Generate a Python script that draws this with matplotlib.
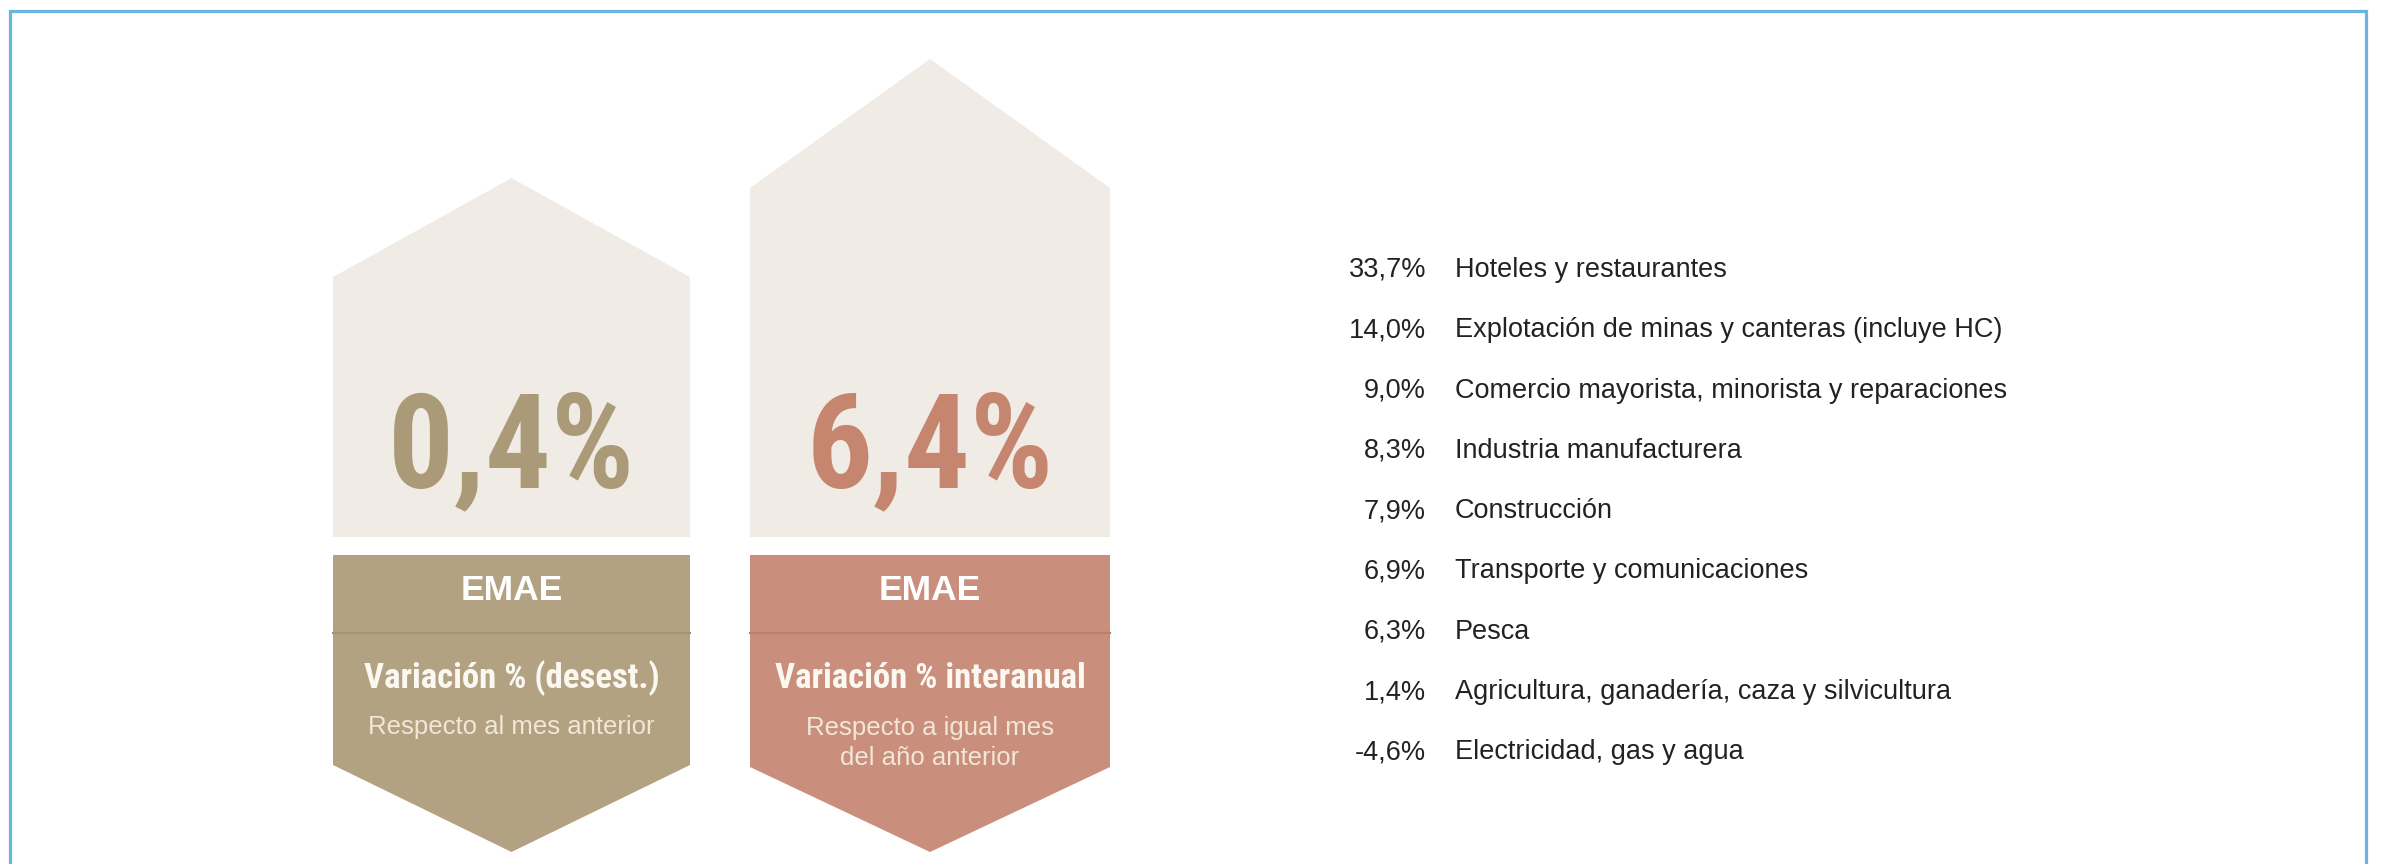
import matplotlib
matplotlib.use("Agg")
import matplotlib.pyplot as plt
from matplotlib import font_manager
from matplotlib.font_manager import FontProperties
from matplotlib.patches import Polygon

# --- data -------------------------------------------------------------
headline_values = [0.4, 6.4]
headline_label = "EMAE"
headline_titles = ["Variación % (desest.)", "Variación % interanual"]
headline_notes = ["Respecto al mes anterior", "Respecto a igual mes\ndel año anterior"]

sector_values = [33.7, 14.0, 9.0, 8.3, 7.9, 6.9, 6.3, 1.4, -4.6]
sector_names = [
    "Hoteles y restaurantes",
    "Explotación de minas y canteras (incluye HC)",
    "Comercio mayorista, minorista y reparaciones",
    "Industria manufacturera",
    "Construcción",
    "Transporte y comunicaciones",
    "Pesca",
    "Agricultura, ganadería, caza y silvicultura",
    "Electricidad, gas y agua",
]

# --- style ------------------------------------------------------------
LIGHT = "#f0ece5"
BOX_COLORS = ["#b3a282", "#c98e7c"]
LINE_COLORS = ["#a5946f", "#bb7f6d"]
NUM_COLORS = ["#ab9a78", "#c6856f"]
BORDER = "#6ab4e1"


def is_bold(f):
    w = f.weight
    return w in ("bold", "heavy", "black", "extra bold") or (isinstance(w, int) and w >= 700)


def narrow_bold_font():
    # look for any condensed / narrow bold face that happens to be installed
    fonts = font_manager.fontManager.ttflist
    prefs = ["Liberation Sans Narrow", "Roboto Condensed", "Open Sans Condensed"]
    for name in prefs:
        for f in fonts:
            if f.name == name and is_bold(f) and f.style == "normal":
                return f.fname, True
    for f in fonts:
        if ("condensed" in str(f.stretch) or "Condensed" in f.fname) and is_bold(f) \
                and f.style == "normal" and "Mono" not in f.fname and "Serif" not in f.fname:
            return f.fname, True
    return None, False


narrow_path, have_narrow = narrow_bold_font()


def narrow_props(size):
    if have_narrow:
        return FontProperties(fname=narrow_path, size=size)
    return FontProperties(family="Liberation Sans", weight="bold", size=size * 0.82)


def fmt_pct(v):
    return f"{v:.1f}".replace(".", ",") + "%"


# shape layout in pixels: (left, right, peak_y, shoulder_y, chevron_y)
shapes = [
    (333, 690, 178, 277, 765),
    (750, 1110, 59, 188, 767),
]
light_bottom = 537
box_top = 555
divider_y = 633
tip_y = 852

W, H = 2381, 864
fig = plt.figure(figsize=(W / 100, H / 100), dpi=100)
ax = fig.add_axes([0, 0, 1, 1])
ax.set_xlim(0, W)
ax.set_ylim(H, 0)
ax.axis("off")

for i, (x0, x1, peak, shoulder, chev) in enumerate(shapes):
    cx = (x0 + x1) / 2
    ax.add_patch(Polygon([(x0, light_bottom), (x0, shoulder), (cx, peak),
                          (x1, shoulder), (x1, light_bottom)],
                         closed=True, facecolor=LIGHT, edgecolor="none"))
    ax.add_patch(Polygon([(x0, box_top), (x1, box_top), (x1, chev),
                          (cx, tip_y), (x0, chev)],
                         closed=True, facecolor=BOX_COLORS[i], edgecolor="none"))
    ax.plot([x0, x1], [divider_y, divider_y], color=LINE_COLORS[i], lw=1.6)

    ax.text(cx, 487, fmt_pct(headline_values[i]), ha="center", va="baseline",
            fontproperties=narrow_props(94), color=NUM_COLORS[i])
    ax.text(cx, 600, headline_label, ha="center", va="baseline",
            fontsize=25.5, fontweight="bold", family="Liberation Sans", color="white")
    ax.text(cx, 688, headline_titles[i], ha="center", va="baseline",
            fontproperties=narrow_props(25), color="#fbf8f2")
    n_lines = headline_notes[i].count("\n")
    ax.text(cx, 734 + 31 * n_lines, headline_notes[i],
            ha="center", va="baseline", fontsize=18.5, family="Liberation Sans",
            color="#f1e7d8", linespacing=1.3, multialignment="center")

# sector list
for i, (v, name) in enumerate(zip(sector_values, sector_names)):
    y = 277 + 60.3 * i
    ax.text(1426, y, fmt_pct(v), ha="right", va="baseline", fontsize=19.5,
            family="Liberation Sans", color="#222222")
    ax.text(1455, y, name, ha="left", va="baseline", fontsize=19.5,
            family="Liberation Sans", color="#222222")

# frame
ax.plot([9.5, 9.5, 2365.5, 2365.5], [H, 10.5, 10.5, H], color=BORDER, lw=2.3,
        solid_joinstyle="miter")

fig.savefig("out.png", dpi=100, facecolor="white")
